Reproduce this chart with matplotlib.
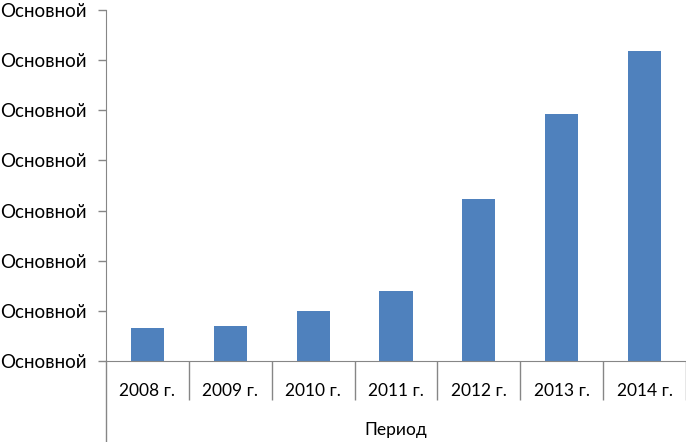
import numpy as np
import matplotlib
matplotlib.use("Agg")
import matplotlib.pyplot as plt
from matplotlib.lines import Line2D

plt.rcParams['font.family'] = ['Lato', 'Open Sans', 'DejaVu Sans']

years = ['2008 г.', '2009 г.', '2010 г.', '2011 г.', '2012 г.', '2013 г.', '2014 г.']
values = [0.65, 0.69, 0.99, 1.39, 3.24, 4.92, 6.19]
ytick_vals = [0, 1, 2, 3, 4, 5, 6, 7]
ytick_labels = ['Основной'] * len(ytick_vals)
group_label = 'Период'

axis_col = '#868686'

fig = plt.figure(figsize=(6.86, 4.42), dpi=100)
ax = fig.add_axes([106/686, 81/442, 580/686, 351/442])

x = np.arange(len(years))
ax.bar(x, values, width=0.4, color='#4F81BD')

ax.set_xlim(-0.5, len(years) - 0.5)
ax.set_ylim(0, 7)
ax.set_yticks(ytick_vals)
ax.set_yticklabels(ytick_labels, fontsize=13.5)

ax.set_xticks(x)
ax.set_xticklabels(years, fontsize=12.5)
ax.tick_params(axis='x', which='major', length=0, pad=16)
ax.set_xticks(np.arange(len(years)) + 0.5, minor=True)
ax.tick_params(axis='x', which='minor', length=28, color=axis_col, width=1)
ax.tick_params(axis='y', length=6, color=axis_col, width=1, pad=8)

for s in ['top', 'right']:
    ax.spines[s].set_visible(False)
ax.spines['left'].set_color(axis_col)
ax.spines['bottom'].set_color(axis_col)

# left spine runs down to the bottom of the figure
fig.add_artist(Line2D([106/686, 106/686], [0, 81/442], color=axis_col, lw=1))

fig.text((106 + 580/2) / 686, 12/442, group_label, ha='center', va='center', fontsize=12.5)

fig.savefig('out.png', dpi=100)
